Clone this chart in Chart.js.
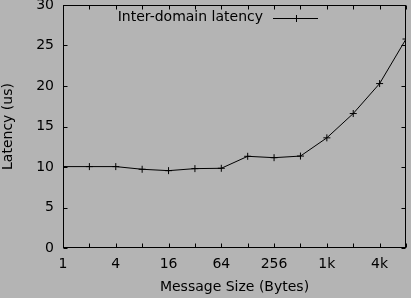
<!DOCTYPE html>
<html><head><meta charset="utf-8">
<script src="https://cdn.jsdelivr.net/npm/chart.js@4"></script>
<style>html,body{margin:0;padding:0;background:#b4b4b4;}canvas{display:block}</style>
</head><body>
<canvas id="c" width="411" height="298"></canvas>
<script>
const messageSizes = [1, 2, 4, 8, 16, 32, 64, 128, 256, 512, 1024, 2048, 4096, 8192];
const interDomainLatency = [10.05, 10.05, 10.05, 9.72, 9.55, 9.8, 9.84, 11.32, 11.15, 11.35, 13.6, 16.6, 20.3, 25.8];
const xTickValues = [1, 2, 4, 8, 16, 32, 64, 128, 256, 512, 1024, 2048, 4096, 8192];
const xTickLabels = ['1', '', '4', '', '16', '', '64', '', '256', '', '1k', '', '4k', ''];
const yTickValues = [0, 5, 10, 15, 20, 25, 30];
const seriesLabel = 'Inter-domain latency';
const xTitle = 'Message Size (Bytes)';
const yTitle = 'Latency (us)';

const FONT = {family: '"DejaVu Sans", sans-serif', size: 14};
const BG = '#b4b4b4';

const bgPlugin = {
  id: 'bg',
  beforeDraw(chart) {
    const ctx = chart.ctx;
    ctx.save();
    ctx.fillStyle = BG;
    ctx.fillRect(0, 0, chart.width, chart.height);
    ctx.restore();
  }
};

const framePlugin = {
  id: 'frame',
  afterDraw(chart) {
    const {ctx, chartArea: a, scales} = chart;
    const L = Math.round(a.left) + 0.5, R = Math.round(a.right) - 0.5;
    const T = Math.round(a.top) + 0.5, B = Math.round(a.bottom) - 0.5;
    ctx.save();
    ctx.strokeStyle = '#000';
    ctx.lineWidth = 1;
    ctx.strokeRect(L, T, R - L, B - T);
    ctx.beginPath();
    const tl = 4;
    scales.x.ticks.forEach(t => {
      const px = Math.round(scales.x.getPixelForValue(t.value)) + 0.5;
      ctx.moveTo(px, B); ctx.lineTo(px, B - tl);
      ctx.moveTo(px, T); ctx.lineTo(px, T + tl);
    });
    scales.y.ticks.forEach(t => {
      const py = Math.round(scales.y.getPixelForValue(t.value)) + 0.5;
      ctx.moveTo(L, py); ctx.lineTo(L + tl, py);
      ctx.moveTo(R, py); ctx.lineTo(R - tl, py);
    });
    ctx.stroke();
    ctx.restore();
  }
};

const keyPlugin = {
  id: 'key',
  afterDatasetsDraw(chart) {
    const {ctx, chartArea: a} = chart;
    const ds = chart.data.datasets[0];
    const y = a.top + 12.5;
    const textRight = a.right - 143;
    const x0 = a.right - 133, x1 = a.right - 88;
    ctx.save();
    ctx.font = '14px "DejaVu Sans", sans-serif';
    ctx.fillStyle = '#000';
    ctx.textAlign = 'right';
    ctx.textBaseline = 'middle';
    ctx.fillText(ds.label, textRight, y);
    ctx.strokeStyle = ds.borderColor;
    ctx.lineWidth = 1;
    ctx.beginPath();
    ctx.moveTo(x0, Math.round(y) + 0.5); ctx.lineTo(x1, Math.round(y) + 0.5);
    const cx = Math.round((x0 + x1) / 2) + 0.5;
    ctx.moveTo(cx, Math.round(y) + 0.5 - 3.5); ctx.lineTo(cx, Math.round(y) + 0.5 + 3.5);
    ctx.stroke();
    ctx.restore();
  }
};

new Chart(document.getElementById('c'), {
  type: 'line',
  data: {
    datasets: [{
      label: seriesLabel,
      data: messageSizes.map((s, i) => ({x: s, y: interDomainLatency[i]})),
      borderColor: '#000',
      borderWidth: 1,
      pointStyle: 'cross',
      pointRadius: 3.5,
      pointBorderWidth: 1,
      pointBorderColor: '#000',
      tension: 0,
      fill: false
    }]
  },
  options: {
    responsive: false,
    animation: false,
    devicePixelRatio: 1,
    layout: {padding: {top: 5, right: 4, left: 0, bottom: 0}},
    plugins: {legend: {display: false}, tooltip: {enabled: false}},
    scales: {
      x: {
        type: 'logarithmic',
        min: 1, max: 8192,
        grid: {display: false, drawTicks: false},
        border: {display: false},
        afterBuildTicks(scale) { scale.ticks = xTickValues.map(v => ({value: v})); },
        ticks: {
          autoSkip: false, maxRotation: 0, minRotation: 0,
          font: FONT, color: '#000', padding: 8,
          callback: (v, i) => xTickLabels[i]
        },
        title: {display: true, text: xTitle, font: FONT, color: '#000', padding: {top: 0, bottom: 2}},
        afterFit(scale) { scale.height = 50; scale.paddingLeft = 0; scale.paddingRight = 0; }
      },
      y: {
        type: 'linear',
        min: 0, max: 30,
        grid: {display: false, drawTicks: false},
        border: {display: false},
        afterBuildTicks(scale) { scale.ticks = yTickValues.map(v => ({value: v})); },
        ticks: {font: FONT, color: '#000', padding: 9},
        title: {display: true, text: yTitle, font: FONT, color: '#000', padding: {top: 0, bottom: 0}},
        afterFit(scale) { scale.width = 63; scale.paddingTop = 0; scale.paddingBottom = 0; }
      }
    }
  },
  plugins: [bgPlugin, framePlugin, keyPlugin]
});
</script>
</body></html>
